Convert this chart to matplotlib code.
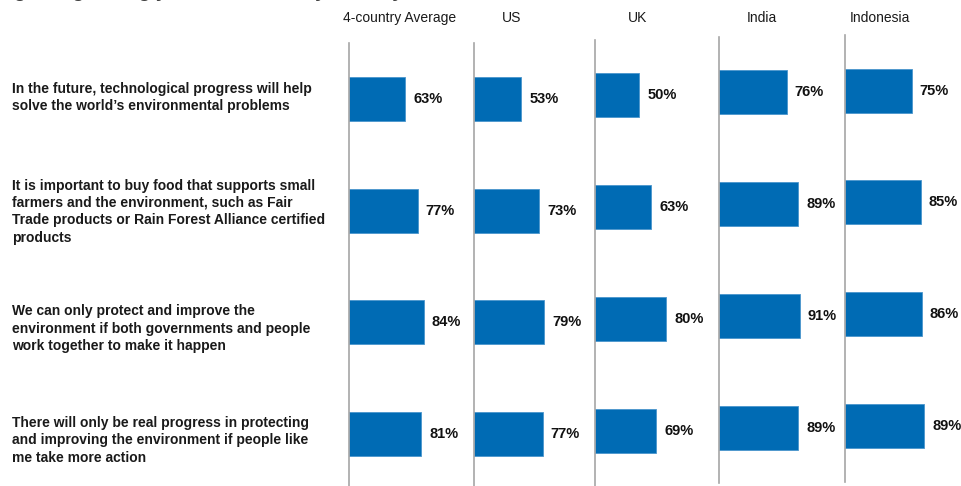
import matplotlib
matplotlib.use("Agg")
import matplotlib.pyplot as plt

# ---- data ----
statements = [
    "In the future, technological progress will help\nsolve the world\u2019s environmental problems",
    "It is important to buy food that supports small\nfarmers and the environment, such as Fair\nTrade products or Rain Forest Alliance certified\nproducts",
    "We can only protect and improve the\nenvironment if both governments and people\nwork together to make it happen",
    "There will only be real progress in protecting\nand improving the environment if people like\nme take more action",
]
groups = ["4-country Average", "US", "UK", "India", "Indonesia"]
avg_vals = [63, 77, 84, 81]
us_vals = [53, 73, 79, 77]
uk_vals = [50, 63, 80, 69]
india_vals = [76, 89, 91, 89]
indonesia_vals = [75, 85, 86, 89]
series = [avg_vals, us_vals, uk_vals, india_vals, indonesia_vals]

# ---- layout (pixels) ----
W, H = 962, 486
BAR = "#006BB4"
EDGE = "#4A95CC"
AXIS_GREY = "#A6A6A6"
FONT = "Liberation Sans"

panel_left = [349, 474, 595, 719, 845]
panel_top = [43, 43, 40, 37, 35]
panel_bottom = [486, 486, 486, 483, 482]
first_row_center = [99, 99, 95.5, 92.5, 90.5]
row_step = 111.7
px_per_pct = 0.89
panel_w = 118
header_x = [343, 502, 628, 747, 850]
header_y = 18
# baseline of the last line of each statement block
label_last_baselines = [110, 241.5, 350, 461.5]

fig = plt.figure(figsize=(W / 100, H / 100), dpi=100)
fig.patch.set_facecolor("white")

def fx(px):
    return px / W

def fy(py):
    return 1 - py / H

# title line sitting mostly above the canvas
fig.text(fx(0), fy(-3), "Agreeing strongly or somewhat, by country",
         ha="left", va="baseline", fontsize=14, fontweight="bold",
         color="#404040", family=FONT)

for p, vals in enumerate(series):
    top, bot = panel_top[p], panel_bottom[p]
    ax = fig.add_axes([fx(panel_left[p]), fy(bot), fx(panel_w), (bot - top) / H])
    c0 = first_row_center[p]
    ax.set_ylim((bot - c0) / row_step, (top - c0) / row_step)
    ax.set_xlim(0, panel_w / px_per_pct)
    rows = list(range(len(vals)))
    ax.barh(rows, vals, height=44 / row_step, color=BAR, edgecolor=EDGE,
            linewidth=0.6, align="center")
    for r, v in zip(rows, vals):
        ax.annotate(f"{v}%", (v, r), xytext=(8, 0), textcoords="offset pixels",
                    ha="left", va="center", fontsize=10.5, fontweight="bold",
                    color="#111111", family=FONT)
    for s in ("top", "right", "bottom"):
        ax.spines[s].set_visible(False)
    ax.spines["left"].set_color(AXIS_GREY)
    ax.spines["left"].set_linewidth(1.2)
    ax.set_xticks([])
    ax.set_yticks([])
    ax.patch.set_alpha(0)
    fig.text(fx(header_x[p]), fy(header_y), groups[p], ha="left", va="center",
             fontsize=10, color="#1a1a1a", family=FONT)

for text, base in zip(statements, label_last_baselines):
    fig.text(fx(12), fy(base), text, ha="left", va="baseline", fontsize=10,
             fontweight="bold", color="#1a1a1a", family=FONT, linespacing=1.3)

fig.savefig("out.png", dpi=100, facecolor="white")
